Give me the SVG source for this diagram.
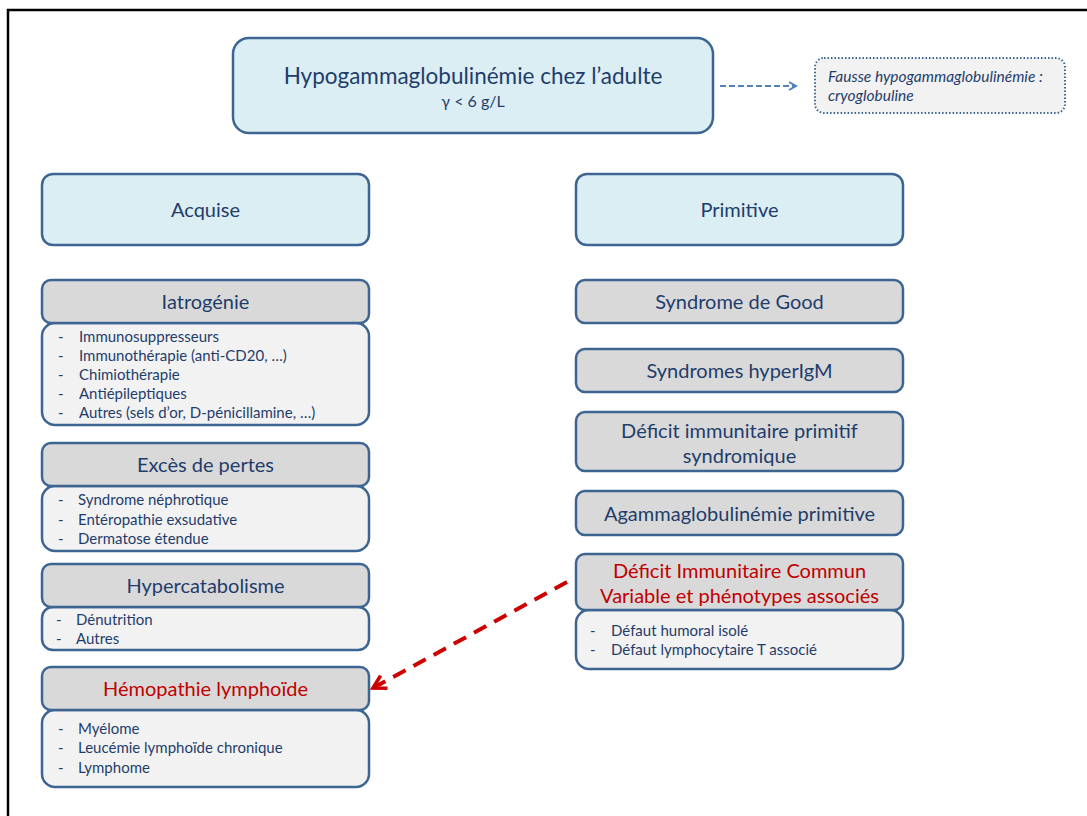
<svg xmlns="http://www.w3.org/2000/svg" width="1087" height="816" viewBox="0 0 1087 816">
<defs>
<style>
.t{font-family:Lato,"Liberation Sans",sans-serif;fill:#1f3d6b}
.h{font-size:20px;text-anchor:middle}
.l{font-size:15px}
.red{fill:#c00000}
.blue{fill:#dbeef4;stroke:#3d6592;stroke-width:2.5}
.gray{fill:#d9d9d9;stroke:#3d6592;stroke-width:2.5}
.lite{fill:#f2f2f2;stroke:#3d6592;stroke-width:2.5}
</style>
<marker id="ab" viewBox="0 0 10 10" refX="8" refY="5" markerWidth="10" markerHeight="10" markerUnits="userSpaceOnUse" orient="auto"><path d="M1,1 L8,5 L1,9" fill="none" stroke="#4f81bd" stroke-width="2"/></marker>
<marker id="ar" viewBox="0 0 10 10" refX="8" refY="5" markerWidth="18" markerHeight="18" markerUnits="userSpaceOnUse" orient="auto"><path d="M1,1 L8,5 L1,9" fill="none" stroke="#cc0000" stroke-width="2"/></marker>
</defs>
<rect width="1087" height="816" fill="#fff"/>
<path d="M8,816 V10 H1087" fill="none" stroke="#000" stroke-width="2.5"/>

<g id="title">
<rect x="233" y="38" width="480" height="95" rx="16" class="blue"/>
<text x="473" y="84" class="t" text-anchor="middle" font-size="22.5">Hypogammaglobulinémie chez l’adulte</text>
<text x="473" y="107" class="t" text-anchor="middle" font-size="16">γ &lt; 6 g/L</text>
</g>
<g id="fausse">
<rect x="815" y="58" width="250" height="55" rx="9" fill="#f2f2f2" stroke="#3d6592" stroke-width="2" stroke-dasharray="1.5 2"/>
<text x="828" y="82" class="t" font-size="15.5" font-style="italic">Fausse hypogammaglobulinémie :</text>
<text x="828" y="101" class="t" font-size="15.5" font-style="italic">cryoglobuline</text>
</g>

<g id="acquise">
<rect x="42" y="174" width="327" height="71" rx="11" class="blue"/>
<text x="205.5" y="217" class="t h">Acquise</text>
</g>
<g id="primitive">
<rect x="576" y="174" width="327" height="71" rx="11" class="blue"/>
<text x="739.5" y="217" class="t h">Primitive</text>
</g>

<g id="iatrogenie">
<rect x="42" y="323" width="327" height="102" rx="13" class="lite"/>
<rect x="42" y="280" width="327" height="43" rx="9" class="gray"/>
<text x="205.5" y="309" class="t h">Iatrogénie</text>
<g class="t l">
<text x="58" y="342">-</text><text x="79" y="342">Immunosuppresseurs</text>
<text x="58" y="361">-</text><text x="79" y="361">Immunothérapie (anti-CD20, …)</text>
<text x="58" y="380">-</text><text x="79" y="380">Chimiothérapie</text>
<text x="58" y="399">-</text><text x="79" y="399">Antiépileptiques</text>
<text x="58" y="418">-</text><text x="79" y="418">Autres (sels d’or, D-pénicillamine, …)</text>
</g>
</g>

<g id="exces">
<rect x="42" y="486" width="327" height="65" rx="13" class="lite"/>
<rect x="42" y="443" width="327" height="43" rx="9" class="gray"/>
<text x="205.5" y="472" class="t h">Excès de pertes</text>
<g class="t l">
<text x="58" y="505">-</text><text x="78" y="505">Syndrome néphrotique</text>
<text x="58" y="525">-</text><text x="78" y="525">Entéropathie exsudative</text>
<text x="58" y="544">-</text><text x="78" y="544">Dermatose étendue</text>
</g>
</g>

<g id="hypercatabolisme">
<rect x="42" y="607" width="327" height="43" rx="11" class="lite"/>
<rect x="42" y="564" width="327" height="43" rx="9" class="gray"/>
<text x="205.5" y="593" class="t h">Hypercatabolisme</text>
<g class="t l">
<text x="56" y="625">-</text><text x="76" y="625">Dénutrition</text>
<text x="56" y="644">-</text><text x="76" y="644">Autres</text>
</g>
</g>

<g id="hemopathie">
<rect x="42" y="710" width="327" height="77" rx="13" class="lite"/>
<rect x="42" y="667" width="327" height="43" rx="9" class="gray"/>
<text x="205.5" y="696" class="t h red">Hémopathie lymphoïde</text>
<g class="t l">
<text x="58" y="734">-</text><text x="78" y="734">Myélome</text>
<text x="58" y="753">-</text><text x="78" y="753">Leucémie lymphoïde chronique</text>
<text x="58" y="773">-</text><text x="78" y="773">Lymphome</text>
</g>
</g>

<g id="good">
<rect x="576" y="280" width="327" height="43" rx="9" class="gray"/>
<text x="739.5" y="309" class="t h">Syndrome de Good</text>
</g>
<g id="hyperigm">
<rect x="576" y="349" width="327" height="43" rx="9" class="gray"/>
<text x="739.5" y="378" class="t h">Syndromes hyperIgM</text>
</g>
<g id="dip">
<rect x="576" y="412" width="327" height="59" rx="9" class="gray"/>
<text x="739.5" y="438" class="t h">Déficit immunitaire primitif</text>
<text x="739.5" y="463" class="t h">syndromique</text>
</g>
<g id="agamma">
<rect x="576" y="491" width="327" height="44" rx="9" class="gray"/>
<text x="739.5" y="521" class="t h">Agammaglobulinémie primitive</text>
</g>
<g id="dicv">
<rect x="576" y="610" width="327" height="59" rx="13" class="lite"/>
<rect x="576" y="554" width="327" height="56" rx="9" class="gray"/>
<text x="739.5" y="578" class="t h red">Déficit Immunitaire Commun</text>
<text x="739.5" y="603" class="t h red">Variable et phénotypes associés</text>
<g class="t l">
<text x="590" y="636">-</text><text x="611" y="636">Défaut humoral isolé</text>
<text x="590" y="655">-</text><text x="611" y="655">Défaut lymphocytaire T associé</text>
</g>
</g>

<g id="connectors">
<line x1="720" y1="86" x2="796" y2="86" stroke="#4f81bd" stroke-width="2" stroke-dasharray="6 3" marker-end="url(#ab)"/>
<line x1="567" y1="582" x2="373" y2="688" stroke="#cc0000" stroke-width="4" stroke-dasharray="14 9" marker-end="url(#ar)"/>
</g>
</svg>
